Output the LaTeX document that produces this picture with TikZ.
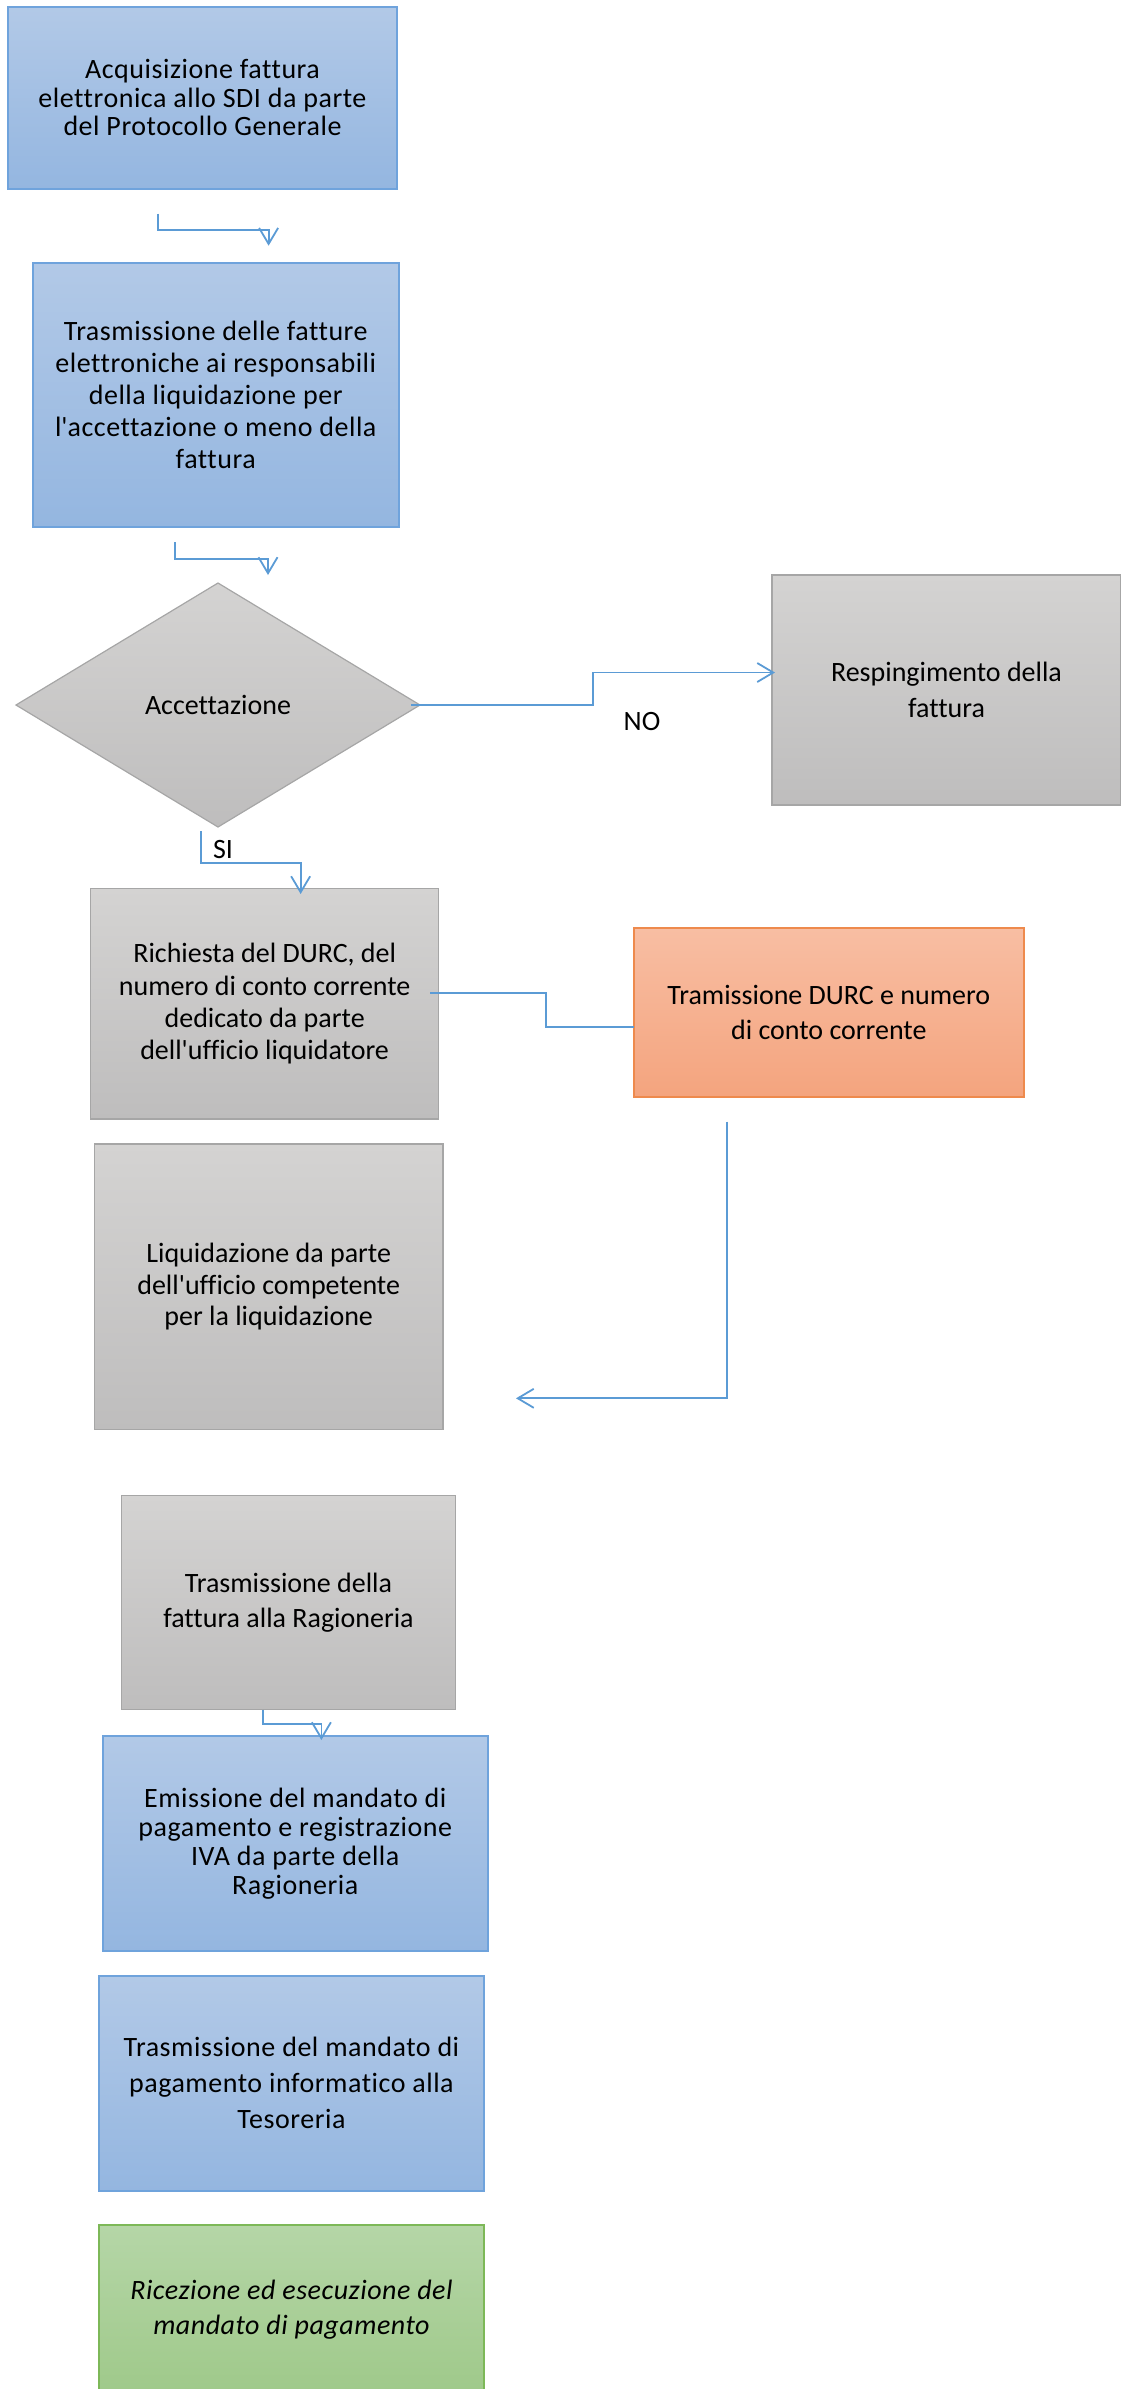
\documentclass[tikz,border=0pt]{standalone}
\usepackage{fontspec}
\setmainfont{Carlito}[Ligatures=NoCommon]
\newfontfamily\spacedfont{Carlito}[LetterSpace=1.9,Ligatures=NoCommon]
\usetikzlibrary{shapes.geometric,arrows.meta,positioning}

\definecolor{linkblue}{HTML}{5B9BD5}
\definecolor{bluetop}{HTML}{B2C9E7}
\definecolor{bluebot}{HTML}{94B6E0}
\definecolor{blueedge}{HTML}{6FA3DC}
\definecolor{graytop}{HTML}{D4D3D2}
\definecolor{graybot}{HTML}{BEBDBD}
\definecolor{grayedge}{HTML}{A6A6A6}
\definecolor{orangetop}{HTML}{F8BEA3}
\definecolor{orangebot}{HTML}{F4A47E}
\definecolor{orangeedge}{HTML}{EE8A4D}
\definecolor{greentop}{HTML}{B5D6A7}
\definecolor{greenbot}{HTML}{9FC98A}
\definecolor{greenedge}{HTML}{7DB858}

\begin{document}
\begin{tikzpicture}[x=0.5pt,y=-0.5pt,
    box/.style={rectangle, line width=1pt, inner sep=0pt, outer sep=0pt, align=center},
    bluebox/.style={box, draw=blueedge, top color=bluetop, bottom color=bluebot,
        font={\spacedfont\fontsize{14}{#1}\selectfont}},
    graybox/.style={box, line width=0.8pt, draw=grayedge, top color=graytop, bottom color=graybot,
        font={\fontsize{14}{#1}\selectfont}},
    orangebox/.style={box, draw=orangeedge, top color=orangetop, bottom color=orangebot,
        font={\fontsize{14}{#1}\selectfont}},
    greenbox/.style={box, draw=greenedge, top color=greentop, bottom color=greenbot,
        font={\spacedfont\itshape\fontsize{14}{#1}\selectfont}},
    choice/.style={diamond, draw=grayedge, line width=0.6pt, top color=graytop, bottom color=graybot,
        inner sep=0pt, outer sep=0pt, minimum width=202pt, minimum height=122pt, font=\fontsize{14}{17}\selectfont},
    tag/.style={inner sep=0pt, font=\fontsize{14}{17}\selectfont},
    conn/.style={draw=linkblue, line width=0.9pt},
    arr/.style={conn, -{Straight Barb[length=8pt,width=9.5pt]}}]
\useasboundingbox (0,0) rectangle (1120,2389);

\node[bluebox=14.35pt, minimum width=194.5pt, minimum height=91.25pt] (acq) at (202.5,97.75)
    {Acquisizione fattura\\elettronica allo SDI da parte\\del Protocollo Generale};
\node[bluebox=16pt, minimum width=183.25pt, minimum height=132pt] (trasm) at (215.75,395)
    {Trasmissione delle fatture\\elettroniche ai responsabili\\della liquidazione per\\l\textquotesingle accettazione o meno della\\fattura};
\node[choice] (acc) at (218,705) {Accettazione};
\node[graybox=17.85pt, minimum width=174.5pt, minimum height=115pt] (resp) at (946.5,690)
    {Respingimento della\\fattura};
\node[graybox=16.2pt, minimum width=174pt, minimum height=115.2pt] (rich) at (264.65,1003.8)
    {Richiesta del DURC, del\\numero di conto corrente\\dedicato da parte\\dell\textquotesingle ufficio liquidatore};
\node[orangebox=17.8pt, minimum width=194.8pt, minimum height=84.5pt] (tram) at (828.8,1012.5)
    {Tramissione DURC e numero\\di conto corrente};
\node[graybox=15.8pt, minimum width=174.3pt, minimum height=142.8pt] (liq) at (268.7,1286.8)
    {Liquidazione da parte\\dell\textquotesingle ufficio competente\\per la liquidazione};
\node[graybox=17.8pt, minimum width=167.1pt, minimum height=107pt] (rag) at (288.5,1602.5)
    {Trasmissione della\\fattura alla Ragioneria};
\node[bluebox=14.5pt, minimum width=192.25pt, minimum height=107.85pt] (emis) at (295.25,1843.45)
    {Emissione del mandato di\\pagamento e registrazione\\IVA da parte della\\Ragioneria};
\node[bluebox=18pt, minimum width=192.15pt, minimum height=107.75pt] (tes) at (291.45,2083.25)
    {Trasmissione del mandato di\\pagamento informatico alla\\Tesoreria};
\node[greenbox=17.5pt, minimum width=192.15pt, minimum height=84.5pt] (ric) at (291.45,2309.5)
    {Ricezione ed esecuzione del\\mandato di pagamento};

\node[tag] (no) at (642,721) {NO};
\node[tag] (si) at (223,849) {SI};

% connettori
\draw[arr] ([shift={(-44.5,24.5)}]acq.south) |- ([shift={(52.85,-33.4)}]trasm.north) -- ([shift={(52.85,-17.3)}]trasm.north);
\draw[arr] ([shift={(-40.75,15)}]trasm.south) |- ([shift={(50,-24)}]acc.north) -- ([shift={(50,-8)}]acc.north);
\draw[arr] ([shift={(-9,0)}]acc.east) -- ++(182,0) |- ([shift={(3,-17.5)}]resp.west);
\draw[arr] ([shift={(-17.3,4)}]acc.south) |- ([shift={(36,-25.6)}]rich.north) -- ([shift={(36,5.4)}]rich.north);
\draw[conn] ([shift={(-8.6,-11)}]rich.east) -- ++(116,0) |- ([shift={(0,14.3)}]tram.west);
\draw[arr] ([shift={(-101.8,24.6)}]tram.south) |- ([shift={(73,111.5)}]liq.east);
\draw[arr] ([shift={(-25.5,0)}]rag.south) |- ([shift={(26.15,-11.6)}]emis.north) -- ([shift={(26.15,4.4)}]emis.north);
\end{tikzpicture}
\end{document}
